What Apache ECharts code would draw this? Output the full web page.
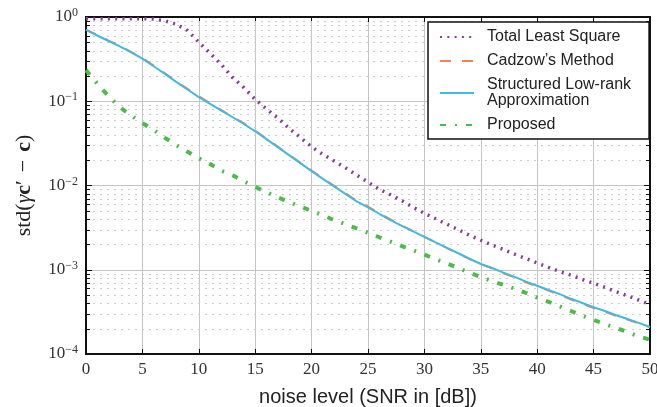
<!DOCTYPE html>
<html>
<head>
<meta charset="utf-8">
<script src="https://cdn.jsdelivr.net/npm/echarts@6/dist/echarts.min.js"></script>
<style>
html,body{margin:0;padding:0;background:#fff;}
#chart{width:657px;height:407px;}
</style>
</head>
<body>
<div id="chart"></div>
<script>
// SNR in dB
var snr = [0,1,2,3,4,5,6,7,8,9,10,11,12,13,14,15,16,17,18,19,20,21,22,23,24,25,26,27,28,29,30,31,32,33,34,35,36,37,38,39,40,41,42,43,44,45,46,47,48,49,50];

var totalLeastSquare = [0.955,0.955,0.955,0.955,0.955,0.955,0.944,0.902,0.822,0.692,0.501,0.372,0.272,0.191,0.145,0.105,0.0813,0.0631,0.0479,0.0372,0.0288,0.0234,0.0195,0.0162,0.0133,0.011,0.009,0.00776,0.0066,0.0055,0.00468,0.00403,0.00347,0.00299,0.00257,0.00224,0.00197,0.00174,0.00153,0.00136,0.0012,0.00107,0.000955,0.000861,0.000767,0.000692,0.000617,0.00055,0.00049,0.000437,0.000389];

var cadzow = [0.71,0.61,0.525,0.455,0.385,0.325,0.265,0.215,0.172,0.14,0.115,0.095,0.0785,0.0655,0.0545,0.0447,0.036,0.029,0.0232,0.0187,0.015,0.0122,0.0099,0.0081,0.0066,0.0056,0.0047,0.00395,0.00335,0.00287,0.00246,0.00211,0.00181,0.00156,0.00134,0.00116,0.00104,0.00091,0.00081,0.00071,0.000635,0.000565,0.000503,0.000444,0.000395,0.000352,0.000318,0.000283,0.000256,0.000231,0.000207];

var slra = [0.705,0.603,0.519,0.447,0.38,0.32,0.26,0.211,0.17,0.138,0.112,0.0933,0.0776,0.0646,0.0537,0.044,0.0355,0.0285,0.0229,0.0184,0.0148,0.012,0.00977,0.00794,0.00646,0.0055,0.00462,0.00389,0.00331,0.00285,0.00245,0.00211,0.00182,0.00157,0.00135,0.00117,0.00105,0.000923,0.000822,0.000724,0.000646,0.000575,0.000513,0.000452,0.000403,0.000359,0.000324,0.000288,0.00026,0.000234,0.000209];

var proposed = [0.234,0.162,0.115,0.0851,0.0676,0.055,0.0457,0.0367,0.0302,0.0251,0.0211,0.018,0.015,0.0132,0.0112,0.00964,0.00832,0.00724,0.00638,0.00562,0.00501,0.00442,0.00389,0.00347,0.00309,0.00275,0.00243,0.00216,0.00191,0.0017,0.00151,0.00133,0.00119,0.00105,0.000923,0.000822,0.000733,0.000661,0.000596,0.000531,0.000468,0.000417,0.000367,0.000324,0.000285,0.000254,0.000226,0.000204,0.000182,0.000162,0.000148];

var seriesNames = ['Total Least Square', "Cadzow\u2019s Method", 'Structured Low-rank\nApproximation', 'Proposed'];
var xTicks = [0,5,10,15,20,25,30,35,40,45,50];
var yMajor = [1e-4,1e-3,1e-2,1e-1,1];
var yMinor = [2e-4,3e-4,4e-4,5e-4,6e-4,7e-4,8e-4,9e-4,2e-3,3e-3,4e-3,5e-3,6e-3,7e-3,8e-3,9e-3,2e-2,3e-2,4e-2,5e-2,6e-2,7e-2,8e-2,9e-2,0.2,0.3,0.4,0.5,0.6,0.7,0.8,0.9];

function pairs(arr){ return snr.map(function(x,i){ return [x, arr[i]]; }); }

var chart = echarts.init(document.getElementById('chart'), null, {renderer:'canvas'});

var serif = 'Liberation Serif';
var sans = 'Liberation Sans';

var supMap = {'0':'0','-1':'\u22121','-2':'\u22122','-3':'\u22123','-4':'\u22124'};

var option = {
  animation: false,
  backgroundColor: '#fff',
  grid: {left: 86, right: 7, top: 17, bottom: 53, containLabel: false, outerBoundsMode: 'none'},
  legend: {
    orient: 'vertical',
    left: 428, top: 22,
    backgroundColor: '#fff',
    borderColor: '#111',
    borderWidth: 1.5,
    borderRadius: 0,
    padding: [7, 18, 6, 11],
    itemWidth: 34,
    itemHeight: 14,
    itemGap: 8,
    itemStyle: {opacity: 0},
    textStyle: {fontFamily: sans, fontSize: 16, color: '#222', lineHeight: 16, padding: [0, 0, 0, 8]},
    data: seriesNames
  },
  xAxis: [{
    type: 'value', min: 0, max: 50, interval: 5,
    name: 'noise level (SNR in [dB])',
    nameLocation: 'middle', nameGap: 33,
    nameTextStyle: {fontFamily: sans, fontSize: 20, color: '#222'},
    axisLine: {show: true, onZero: false, lineStyle: {color: '#111', width: 2}},
    axisTick: {show: true, inside: true, length: 5, lineStyle: {color: '#111', width: 1}},
    axisLabel: {fontFamily: serif, fontSize: 17, color: '#333', margin: 7},
    splitLine: {show: true, lineStyle: {color: '#c4c4c4', width: 1}}
  }, {
    type: 'value', min: 0, max: 50, interval: 5, position: 'top',
    axisLine: {show: true, onZero: false, lineStyle: {color: '#111', width: 2}},
    axisTick: {show: true, inside: true, length: 5, lineStyle: {color: '#111', width: 1}},
    axisLabel: {show: false}, splitLine: {show: false}
  }],
  yAxis: [{
    type: 'log', logBase: 10, min: 1e-4, max: 1,
    name: '{n|std(}{g|\u03b3}{b|c}{n|\u2032}{m|\u2212}{b|c}{n|)}',
    nameLocation: 'middle', nameGap: 51, nameRotate: 90,
    nameTextStyle: {
      fontFamily: serif, fontSize: 22, color: '#222',
      rich: {
        n: {fontFamily: serif, fontSize: 22, color: '#222'},
        m: {fontFamily: serif, fontSize: 22, color: '#222', padding: [0, 8, 0, 8]},
        g: {fontFamily: serif, fontSize: 22, fontStyle: 'italic', color: '#222'},
        b: {fontFamily: serif, fontSize: 22, fontWeight: 'bold', color: '#222'}
      }
    },
    axisLine: {show: true, onZero: false, lineStyle: {color: '#111', width: 2}},
    axisTick: {show: true, inside: true, length: 6, lineStyle: {color: '#111', width: 1}},
    axisLabel: {
      margin: 8,
      formatter: function(v){
        var e = Math.round(Math.log10(v));
        return '{b|10}{s|' + supMap[String(e)] + '}';
      },
      rich: {
        b: {fontFamily: serif, fontSize: 17, color: '#333'},
        s: {fontFamily: serif, fontSize: 12, color: '#333', padding: [0, 0, 8, 0]}
      }
    },
    splitLine: {show: true, lineStyle: {color: '#c4c4c4', width: 1}}
  }, {
    type: 'log', logBase: 10, min: 1e-4, max: 1, position: 'right',
    axisLine: {show: true, onZero: false, lineStyle: {color: '#111', width: 2}},
    axisTick: {show: true, inside: true, length: 6, lineStyle: {color: '#111', width: 1}},
    axisLabel: {show: false}, splitLine: {show: false}
  }],
  series: [
    {
      type: 'custom', name: 'minorGrid', silent: true, z: 1,
      data: yMinor.map(function(v){ return [0, v]; }),
      renderItem: function(params, api){
        var p0 = api.coord([0, api.value(1)]);
        var p1 = api.coord([50, api.value(1)]);
        var y = Math.round(p0[1]) + 0.5;
        return {type: 'group', children: [
          {type: 'line', shape: {x1: p0[0], y1: y, x2: p1[0], y2: y},
           style: {stroke: '#cccccc', lineWidth: 1, lineDash: [2, 5]}},
          {type: 'line', shape: {x1: p0[0], y1: y, x2: p0[0] + 4, y2: y},
           style: {stroke: '#111', lineWidth: 1}},
          {type: 'line', shape: {x1: p1[0], y1: y, x2: p1[0] - 4, y2: y},
           style: {stroke: '#111', lineWidth: 1}}
        ]};
      }
    },
    {
      name: seriesNames[0], type: 'line', data: pairs(totalLeastSquare),
      symbol: 'none', z: 3,
      lineStyle: {color: '#8a3a9c', width: 3.5, type: [2, 5.3]},
      itemStyle: {color: '#8a3a9c'}
    },
    {
      name: seriesNames[1], type: 'line', data: pairs(cadzow),
      symbol: 'none', z: 4,
      lineStyle: {color: '#f08458', width: 2, type: [11, 11]},
      itemStyle: {color: '#f08458'}
    },
    {
      name: seriesNames[2], type: 'line', data: pairs(slra),
      symbol: 'none', z: 5,
      lineStyle: {color: '#45b8e0', width: 2, type: 'solid'},
      itemStyle: {color: '#45b8e0'}
    },
    {
      name: seriesNames[3], type: 'line', data: pairs(proposed),
      symbol: 'none', z: 6,
      lineStyle: {color: '#4cbb47', width: 4, type: [6, 9, 2, 9]},
      itemStyle: {color: '#4cbb47'}
    }
  ]
};
chart.setOption(option);
</script>
</body>
</html>
